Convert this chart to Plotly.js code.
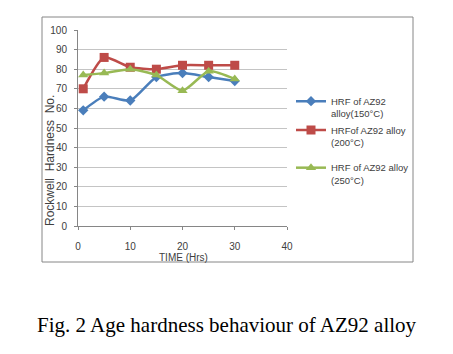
<!DOCTYPE html>
<html>
<head>
<meta charset="utf-8">
<script src="https://cdn.plot.ly/plotly-3.0.1.min.js"></script>
<style>html,body{margin:0;padding:0;background:#fff;}#chart{width:453px;height:354px;}</style>
</head>
<body>
<div id="chart"></div>
<script>
var timeHrs = [1, 5, 10, 15, 20, 25, 30];
var hrf150 = [59, 66, 64, 76, 78, 76, 74];
var hrf200 = [70, 86, 81, 80, 82, 82, 82];
var hrf250 = [77, 78, 80, 77, 69, 79, 75];
var seriesNames = ['HRF of AZ92<br>alloy(150°C)', 'HRFof AZ92 alloy<br>(200°C)', 'HRF of AZ92 alloy<br>(250°C)'];
var xTicks = [0, 10, 20, 30, 40];
var yTicks = [0, 10, 20, 30, 40, 50, 60, 70, 80, 90, 100];
var caption = 'Fig. 2 Age hardness behaviour of AZ92 alloy';

var L = 78, R = 287, T = 30, B = 226;
var W = R - L, H = B - T;
function px(x) { return (x - L) / W; }
function py(y) { return (B - y) / H; }

var traces = [
  {x: timeHrs, y: hrf150, name: seriesNames[0], legendgroup: 'a', legend: 'legend', mode: 'lines+markers',
   line: {color: '#4a7ebb', width: 2.5, shape: 'spline', smoothing: 0.6},
   marker: {symbol: 'diamond', size: 8, color: '#4a7ebb'}},
  {x: timeHrs, y: hrf200, name: seriesNames[1], legendgroup: 'b', legend: 'legend', mode: 'lines+markers',
   line: {color: '#be4b48', width: 2.5, shape: 'spline', smoothing: 0.6},
   marker: {symbol: 'square', size: 9, color: '#be4b48'}},
  {x: timeHrs, y: hrf250, name: seriesNames[2], legendgroup: 'c', legend: 'legend2', mode: 'lines+markers',
   line: {color: '#98b954', width: 2.5, shape: 'spline', smoothing: 0.6},
   marker: {symbol: 'triangle-up', size: 9, color: '#98b954'}}
];

var legendCommon = {xanchor: 'left', yanchor: 'top', tracegroupgap: 1, valign: 'top',
  font: {family: 'Liberation Sans, Arial, sans-serif', size: 9.5, color: '#404040'}, bgcolor: 'rgba(0,0,0,0)', borderwidth: 0};

var layout = {
  width: 453, height: 354,
  margin: {l: L, r: 453 - R, t: T, b: 354 - B, pad: 0},
  paper_bgcolor: '#ffffff', plot_bgcolor: '#ffffff',
  font: {family: 'Liberation Sans, Arial, sans-serif', size: 10, color: '#404040'},
  showlegend: true,
  legend: Object.assign({}, legendCommon, {x: px(291), y: py(88.5)}),
  legend2: Object.assign({}, legendCommon, {x: px(291), y: py(155)}),
  xaxis: {range: [0, 40], tickvals: xTicks, showgrid: false, zeroline: false,
          showline: true, linecolor: '#868686', linewidth: 1, ticks: 'outside', ticklen: 3,
          tickcolor: '#868686', tickfont: {size: 10, color: '#404040'}, ticklabelstandoff: 8, fixedrange: true},
  yaxis: {range: [0, 100], tickvals: yTicks, showgrid: true, gridcolor: '#c4c4c4', gridwidth: 1,
          zeroline: false, showline: true, linecolor: '#868686', linewidth: 1, ticks: 'outside',
          ticklen: 3, tickcolor: '#868686', tickfont: {size: 10, color: '#404040'}, ticklabelstandoff: 5, fixedrange: true},
  shapes: [
    {type: 'rect', xref: 'paper', yref: 'paper', x0: px(42), x1: px(413), y0: py(262), y1: py(17),
     line: {color: '#868686', width: 1}, fillcolor: 'rgba(0,0,0,0)', layer: 'below'}
  ],
  annotations: [
    {text: 'TIME (Hrs)', xref: 'paper', yref: 'paper', x: px(183), y: py(257.5),
     xanchor: 'center', yanchor: 'middle', showarrow: false, font: {size: 10, color: '#404040'}},
    {text: 'Rockwell  Hardness  No.', xref: 'paper', yref: 'paper', x: px(50), y: py(161),
     xanchor: 'center', yanchor: 'middle', textangle: -90, showarrow: false, font: {size: 12, color: '#404040'}},
    {text: caption, xref: 'paper', yref: 'paper', x: px(226.5), y: py(325),
     xanchor: 'center', yanchor: 'middle', showarrow: false,
     font: {family: 'Liberation Serif, Times New Roman, serif', size: 21, color: '#000000'}}
  ]
};

Plotly.newPlot('chart', traces, layout, {displayModeBar: false, staticPlot: true});
</script>
</body>
</html>
